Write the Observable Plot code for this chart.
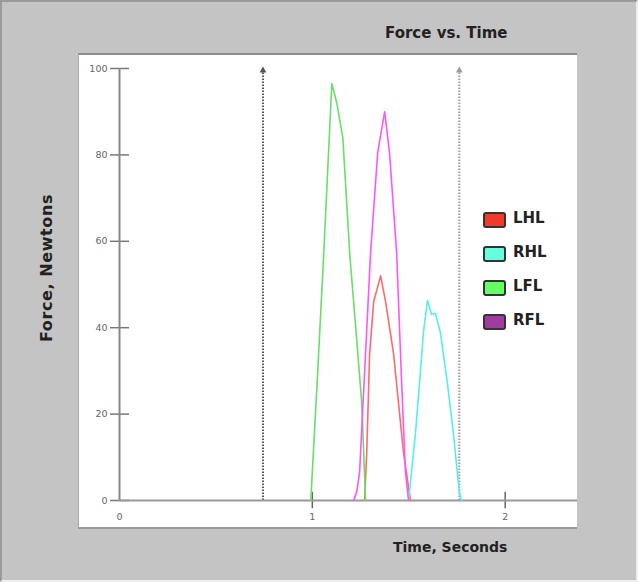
<!DOCTYPE html>
<html>
<head>
<meta charset="utf-8">
<script src="https://cdn.jsdelivr.net/npm/d3@7"></script>
<script src="https://cdn.jsdelivr.net/npm/@observablehq/plot@0.6"></script>
<style>
  html, body { margin: 0; padding: 0; background: #c4c4c4; }
  #frame { position: relative; width: 634px; height: 578px; background: #c4c4c4; border: 2px solid #9a9a9a; border-right-color: #eee; border-bottom-color: #eee; font-family: "DejaVu Sans", Verdana, sans-serif; }
  #title { position: absolute; left: 383px; top: 22px; font-size: 15px; font-weight: bold; color: #222; }
  #panel { position: absolute; left: 76px; top: 51px; width: 498px; height: 472px; background: #fff; border-top: 2px solid #8c8c8c; border-left: 1px solid #aaa; border-bottom: 2px solid #999; }
  #ylabel { position: absolute; left: 44px; top: 266px; transform: translate(-50%, -50%) rotate(-90deg); font-size: 16px; letter-spacing: 0.6px; font-weight: bold; color: #222; white-space: nowrap; }
  #xlabel { position: absolute; left: 391px; top: 537px; font-size: 14px; font-weight: bold; color: #222; }
  #legend { position: absolute; left: 481px; top: 208px; }
  .item { position: relative; height: 34px; }
  .sw { position: absolute; left: 0; top: 2px; width: 19px; height: 12px; border: 2px solid #333; border-radius: 3px; }
  .lb { position: absolute; left: 30px; top: -1px; font-size: 15px; font-weight: bold; color: #222; }
</style>
</head>
<body>
<div id="frame">
  <div id="title">Force vs. Time</div>
  <div id="ylabel">Force, Newtons</div>
  <div id="panel"></div>
  <div id="xlabel">Time, Seconds</div>
  <div id="legend"></div>
</div>
<script>
// ---- data ----
const seriesNames = ["LHL", "RHL", "LFL", "RFL"];
const lineColors = ["#ff6a6a", "#55eeee", "#66e066", "#ff55ff"];
const swatchColors = ["#f03a2a", "#66ffdd", "#66ff66", "#a03ca0"];

const tLHL = [1.271, 1.282, 1.297, 1.318, 1.354, 1.380, 1.421, 1.473, 1.509];
const vLHL = [0, 11, 34, 46, 52, 46, 34, 11, 0];

const tRHL = [1.499, 1.514, 1.535, 1.556, 1.576, 1.597, 1.618, 1.638, 1.664, 1.700, 1.731, 1.762, 1.773];
const vRHL = [0, 6.5, 15.7, 27.3, 38.9, 46.3, 43.1, 43.3, 38.9, 27.3, 15.7, 2, 0];

const tLFL = [0.992, 1.028, 1.059, 1.101, 1.127, 1.158, 1.194, 1.225, 1.256, 1.276];
const vLFL = [0, 30, 57, 96.5, 92, 84, 57, 40, 22.7, 0];

const tRFL = [1.214, 1.230, 1.245, 1.302, 1.339, 1.375, 1.400, 1.437, 1.463, 1.483, 1.499];
const vRFL = [0, 2, 6.5, 57.4, 80.6, 90, 80.6, 57.4, 27.3, 6.5, 0];

const cursors = [0.744, 1.762];
const cursorColors = ["#555", "#9a9a9a"];
const yTicks = [0, 20, 40, 60, 80, 100];
const xTicks = [0, 1, 2];
const xMarks = [1, 2];

// ---- build table ----
const times = [tLHL, tRHL, tLFL, tRFL];
const vals = [vLHL, vRHL, vLFL, vRFL];
const rows = [];
seriesNames.forEach((s, i) => times[i].forEach((t, j) => rows.push({series: s, t, v: vals[i][j]})));
const cursorRows = cursors.map((c, i) => ({c, color: cursorColors[i]}));

const chart = Plot.plot({
  width: 498,
  height: 472,
  marginLeft: 40,
  marginTop: 13,
  marginBottom: 27,
  marginRight: 0,
  style: {fontFamily: "'DejaVu Sans', Verdana, sans-serif", fontSize: "9.5px", color: "#666", background: "transparent"},
  x: {domain: [0, 2.375]},
  y: {domain: [0, 100]},
  color: {domain: seriesNames, range: lineColors},
  marks: [
    Plot.axisY({ticks: yTicks, tickSize: 19, dx: 10, tickPadding: 3, label: null, stroke: "#777", strokeWidth: 1.5}),
    Plot.axisX({ticks: xTicks, tickSize: 0, tickPadding: 13, label: null, tickFormat: d3.format("d")}),
    Plot.ruleX(xMarks, {y1: -1.9, y2: 1.9, stroke: "#666", strokeWidth: 1.5}),
    Plot.ruleX([0], {y1: 0, y2: 100, stroke: "#888", strokeWidth: 2}),
    Plot.ruleX(cursorRows, {x: "c", y1: 0, y2: 100, stroke: "color", strokeWidth: 2, strokeDasharray: "1.5,1.5"}),
    Plot.dot(cursorRows, {x: "c", y: 100, symbol: "triangle", r: 2.5, fill: "color", dy: 2}),
    Plot.ruleY([0], {stroke: "#999", strokeWidth: 2}),
    Plot.line(rows, {x: "t", y: "v", z: "series", stroke: "series", strokeWidth: 1.6})
  ]
});
document.getElementById("panel").appendChild(chart);

// legend
const lg = document.getElementById("legend");
seriesNames.forEach((s, i) => {
  const it = document.createElement("div");
  it.className = "item";
  it.innerHTML = `<div class="sw" style="background:${swatchColors[i]}"></div><div class="lb">${s}</div>`;
  lg.appendChild(it);
});
</script>
</body>
</html>
